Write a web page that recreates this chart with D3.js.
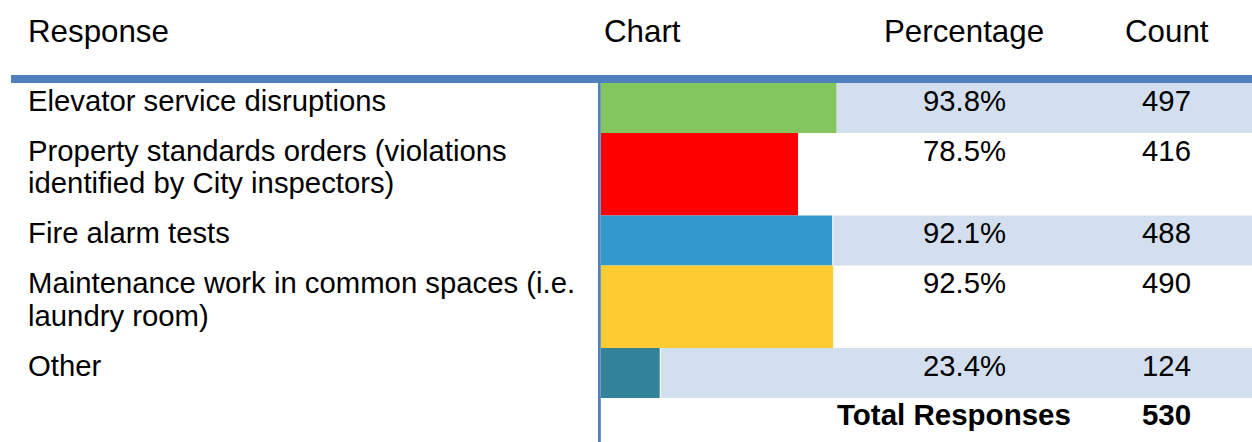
<!DOCTYPE html>
<html>
<head>
<meta charset="utf-8">
<script src="https://cdn.jsdelivr.net/npm/d3@7"></script>
<style>
  html, body { margin: 0; padding: 0; background: #fff; }
  svg { display: block; font-family: "Liberation Sans", Arial, Helvetica, sans-serif; }
</style>
</head>
<body>
<svg id="chart" width="1252" height="442"></svg>
<script>
// ---- data ----
const categories = [
  "Elevator service disruptions",
  "Property standards orders (violations identified by City inspectors)",
  "Fire alarm tests",
  "Maintenance work in common spaces (i.e. laundry room)",
  "Other"
];
const percentages = [93.8, 78.5, 92.1, 92.5, 23.4];
const counts = [497, 416, 488, 490, 124];
const barColors = ["#83C65D", "#FF0000", "#3399CC", "#FFCB33", "#328399"];
const headers = ["Response", "Chart", "Percentage", "Count"];
const totalLabel = "Total Responses";
const totalCount = 530;

// ---- layout ----
const W = 1252, H = 442;
const svg = d3.select("#chart");
const x = d3.scaleLinear().domain([0, 100]).range([601, 852]);
const textX = 28, wrapWidth = 570;
const pctX = 964.5, cntX = 1166.5;
const lineH = 32.5, rowPad = 17.5, baseOff = 27.5;
const fontSize = 29.3;

// header
const headerX = [28, 604, 884, 1125];
svg.selectAll("text.hdr").data(headers).join("text")
  .attr("class", "hdr")
  .attr("x", (d, i) => headerX[i]).attr("y", 42)
  .attr("font-size", 31.3)
  .attr("fill", "#000").text(d => d);

// wrap labels into lines using measured widths
const meas = svg.append("text").attr("font-size", fontSize).attr("visibility", "hidden");
function wrap(str) {
  const words = str.split(" ");
  const lines = [];
  let cur = "";
  for (const w of words) {
    const test = cur ? cur + " " + w : w;
    meas.text(test);
    if (meas.node().getComputedTextLength() > wrapWidth && cur) {
      lines.push(cur); cur = w;
    } else cur = test;
  }
  if (cur) lines.push(cur);
  return lines;
}
const rows = [];
let yTop = 83;
categories.forEach((c, i) => {
  const lines = wrap(c);
  const h = rowPad + lineH * lines.length;
  rows.push({ cat: c, lines, y: yTop, h, pct: percentages[i], cnt: counts[i], color: barColors[i], i });
  yTop += h;
});
meas.remove();

// bands (alternate rows)
svg.selectAll("rect.band").data(rows.filter(r => r.i % 2 === 0)).join("rect")
  .attr("class", "band")
  .attr("x", d => x(d.pct) + (d.i === 0 ? 0 : 1))
  .attr("y", d => d.y)
  .attr("width", d => W - x(d.pct) - (d.i === 0 ? 0 : 1))
  .attr("height", d => d.h)
  .attr("fill", "#D3DFEE");

// bars
svg.selectAll("rect.bar").data(rows).join("rect")
  .attr("class", "bar")
  .attr("x", x(0)).attr("y", d => d.y)
  .attr("width", d => x(d.pct) - x(0))
  .attr("height", d => d.h)
  .attr("fill", d => d.color);

// header rule and vertical rule
svg.append("rect").attr("x", 11).attr("y", 75).attr("width", W - 11).attr("height", 8).attr("fill", "#4F81BD");
svg.append("rect").attr("x", 598).attr("y", 83).attr("width", 2.8).attr("height", H - 83).attr("fill", "#4F81BD");

// labels
const lab = svg.selectAll("text.lab").data(rows).join("text")
  .attr("class", "lab").attr("font-size", fontSize).attr("fill", "#000");
lab.selectAll("tspan").data(d => d.lines.map((l, k) => ({ l, k, y: d.y }))).join("tspan")
  .attr("x", textX).attr("y", d => d.y + baseOff + d.k * lineH).text(d => d.l);

svg.selectAll("text.pct").data(rows).join("text")
  .attr("class", "pct").attr("x", pctX).attr("y", d => d.y + baseOff)
  .attr("text-anchor", "middle").attr("font-size", fontSize).attr("fill", "#000")
  .text(d => d.pct.toFixed(1) + "%");

svg.selectAll("text.cnt").data(rows).join("text")
  .attr("class", "cnt").attr("x", cntX).attr("y", d => d.y + baseOff)
  .attr("text-anchor", "middle").attr("font-size", fontSize).attr("fill", "#000")
  .text(d => d.cnt);

// total row
svg.append("text").attr("x", 837).attr("y", yTop + baseOff - 1)
  .attr("font-size", 29.5).attr("font-weight", "bold")
  .attr("fill", "#000").text(totalLabel);
svg.append("text").attr("x", cntX).attr("y", yTop + baseOff - 1)
  .attr("text-anchor", "middle").attr("font-size", 29.5).attr("font-weight", "bold")
  .attr("fill", "#000").text(totalCount);
</script>
</body>
</html>
